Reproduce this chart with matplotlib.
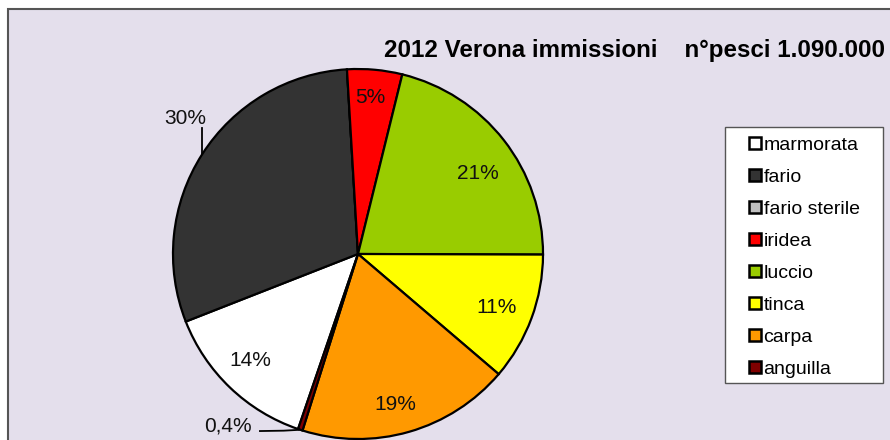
import numpy as np
import matplotlib
matplotlib.use("Agg")
import matplotlib.pyplot as plt
import matplotlib.patches as m_patches

plt.rcParams['font.family'] = ['Liberation Sans', 'DejaVu Sans']

TITLE = "2012 Verona immissioni    n°pesci 1.090.000"
species = ["marmorata", "fario", "fario sterile", "iridea",
           "luccio", "tinca", "carpa", "anguilla"]
shares = [13.8, 30.0, 0.0, 4.8, 21.2, 11.2, 18.6, 0.4]  # percent
colors = ["#FFFFFF", "#333333", "#C0C0C0", "#FF0000",
          "#99CC00", "#FFFF00", "#FF9900", "#800000"]
outside = {"fario": "up", "anguilla": "left"}  # labels with leader lines
# inside labels: (radius, angle shift in degrees) like Excel's best fit
inside_pos = {"marmorata": (0.82, -1.6), "iridea": (0.85, 0.8),
              "luccio": (0.78, -4.0), "tinca": (0.80, -0.7),
              "carpa": (0.84, -2.2)}

W, H = 890, 440
BG = "#E4DFEC"
START = 251.1
LBL_SIZE = 15


def pct_text(v):
    if v < 1:
        return f"{v:.1f}".replace(".", ",") + "%"
    return f"{v:.0f}%"


fig = plt.figure(figsize=(W / 100, H / 100), dpi=100)
fig.patch.set_facecolor("white")

# chart area frame (runs off the right and bottom of the picture)
fig.patches.append(m_patches.Rectangle(
    (8 / W, -0.1), 1.2, 1 - 9 / H + 0.1, transform=fig.transFigure,
    facecolor=BG, edgecolor="#555555", lw=1.5, zorder=-10))

# pie: center (358, 254) px, radius 185 px
cx, cy, r = 358, 254, 185
ax = fig.add_axes([(cx - r) / W, (H - cy - r) / H, 2 * r / W, 2 * r / H])
ax.set_zorder(1)
wedges, _ = ax.pie(shares, colors=colors, startangle=START, counterclock=False,
                   radius=1, wedgeprops=dict(edgecolor="black", linewidth=1.6))
ax.set_xlim(-1, 1)
ax.set_ylim(-1, 1)
ax.set_aspect("equal")
ax.axis("off")

for name, v, w in zip(species, shares, wedges):
    if v <= 0:
        continue
    mid_deg = (w.theta1 + w.theta2) / 2
    mid = np.deg2rad(mid_deg)
    ex, ey = np.cos(mid), np.sin(mid)
    side = outside.get(name)
    if side == "up":
        ax.plot([ex, ex], [ey, ey + 0.14], color="black", lw=1.3, clip_on=False)
        ax.text(ex + 0.02, ey + 0.165, pct_text(v), ha="right", va="baseline",
                fontsize=LBL_SIZE, color="#111111")
    elif side == "left":
        ax.plot([ex, ex - 0.09, -0.53], [ey, -0.955, -0.957], color="black",
                lw=1.3, clip_on=False)
        ax.text(-0.572, -0.962, pct_text(v), ha="right", va="baseline",
                fontsize=LBL_SIZE, color="#111111")
    else:
        rad, shift = inside_pos.get(name, (0.82, 0.0))
        a = np.deg2rad(mid_deg + shift)
        ax.text(rad * np.cos(a), rad * np.sin(a), pct_text(v), ha="center",
                va="center", fontsize=LBL_SIZE, color="#111111")

fig.text(885 / W, 1 - 50 / H, TITLE, ha="right", va="center",
         fontsize=17.4, fontweight="bold", color="black")

# legend box
fig.patches.append(m_patches.Rectangle(
    (725 / W, 1 - 383 / H), 158 / W, 256 / H, transform=fig.transFigure,
    facecolor="white", edgecolor="#555555", lw=1.0, zorder=2))
handles = [m_patches.Patch(facecolor=c, edgecolor="black", lw=1.8, label=s)
           for s, c in zip(species, colors)]
leg = fig.legend(handles=handles, loc="upper left",
                 bbox_to_anchor=(749 / W, 1 - 137 / H), frameon=False,
                 fontsize=14, handlelength=0.6, handleheight=0.6,
                 handletextpad=0.15, labelspacing=0.77, borderpad=0,
                 borderaxespad=0)
leg.set_zorder(3)

fig.savefig("out.png", dpi=100, facecolor=fig.get_facecolor())
